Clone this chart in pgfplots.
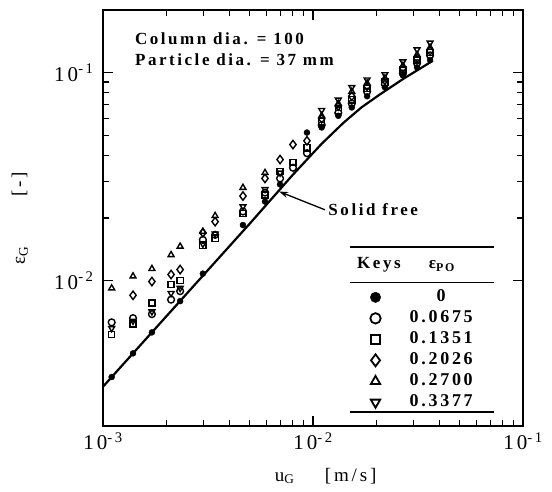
\documentclass[border=0pt]{standalone}
\usepackage{fontspec}
\setmainfont{Liberation Serif}
\newfontfamily\lsfont[LetterSpace=15]{Liberation Serif}
\usepackage{pgfplots}
\pgfplotsset{compat=1.18}
\usetikzlibrary{arrows.meta}

\newcommand\tl[1]{10\textsuperscript{-\,#1}}

\pgfplotsset{
  dat/.style={only marks, black, mark size=3.4pt, forget plot,
    mark options={line width=1.4pt, fill=white, solid}},
  key/.style={only marks, black, mark size=5.2pt,
    mark options={line width=1.8pt, fill=white, solid}},
}

\begin{document}
\begin{tikzpicture}
\begin{axis}[
  xmode=log, ymode=log,
  scale only axis, width=420pt, height=416pt,
  xmin=1e-3, xmax=1e-1, ymin=2e-3, ymax=0.2,
  axis line style={line width=2.4pt},
  every tick/.style={black, line width=1.3pt},
  major tick length=10pt, minor tick length=6pt,
  tick align=inside,
  xtick={1e-3,1e-2,1e-1},
  xticklabels={\tl{3},\tl{2},\tl{1}},
  ytick={1e-2,1e-1},
  yticklabels={\tl{2},\tl{1}},
  ticklabel style={font=\lsfont\fontsize{21}{24}\selectfont},
  xticklabel style={yshift=-3pt},
  yticklabel style={xshift=-6pt},
  xlabel={u\textsubscript{G}\hspace{1.6em}[m/s]},
  ylabel={ε\textsubscript{G}\hspace{2.6em}[-]},
  every axis x label/.style={at={(rel axis cs:0.53,-0.12)}, anchor=center,
    font=\lsfont\fontsize{19}{22}\selectfont},
  every axis y label/.style={at={(rel axis cs:-0.198,0.5)}, anchor=center, rotate=90,
    font=\lsfont\fontsize{19}{22}\selectfont},
  legend style={draw=none, fill=none, inner sep=0pt,
    at={(rel axis cs:0.636,0.335)}, anchor=north west,
    font=\lsfont\bfseries\fontsize{18}{20}\selectfont,
    column sep=27pt, row sep=0pt,
    nodes={text height=13pt, text depth=4pt, inner sep=2pt}},
  legend cell align=center,
]
\coordinate (bl) at (rel axis cs:0,0);

% solid free correlation
\addplot[black, line width=2.2pt, forget plot] coordinates {
  (1.0e-3, 3.09e-3) (5.0e-3, 0.0188) (8.0e-3, 0.0322) (0.0110, 0.0455)
  (0.0140, 0.0575) (0.0170, 0.0680) (0.0210, 0.0790) (0.0270, 0.0935)
  (0.0372, 0.1140)
};

% eps_PO = 0.2700
\addplot[dat, mark=triangle] coordinates {
  (1.10e-3,0.0092) (1.39e-3,0.0105) (1.71e-3,0.0114) (2.11e-3,0.0133)
  (2.33e-3,0.0146) (2.99e-3,0.0172) (3.42e-3,0.0205) (4.64e-3,0.0280)
  (5.91e-3,0.0330) (0.0110,0.0620) (0.0132,0.0710) (0.0153,0.0810)
  (0.0181,0.0890) (0.0220,0.0940) (0.0268,0.1080) (0.0313,0.1220)
  (0.0361,0.1320)
};
% eps_PO = 0.3377
\addplot[dat, mark=triangle, mark options={line width=1.4pt, fill=white, solid, rotate=180}] coordinates {
  (1.10e-3,0.0059) (1.39e-3,0.0064) (1.71e-3,0.0071) (2.11e-3,0.0087)
  (2.33e-3,0.0092) (2.99e-3,0.0150) (3.42e-3,0.0168) (4.64e-3,0.0227)
  (5.91e-3,0.0275) (6.97e-3,0.0330) (0.0110,0.0660) (0.0132,0.0740)
  (0.0153,0.0850) (0.0181,0.0925) (0.0220,0.0980) (0.0268,0.1130)
  (0.0313,0.1290) (0.0361,0.1390)
};
% eps_PO = 0.2026
\addplot[dat, mark=diamond, mark size=4.2pt] coordinates {
  (1.39e-3,0.0085) (1.71e-3,0.0099) (2.11e-3,0.0107) (2.33e-3,0.0113)
  (2.99e-3,0.0170) (3.42e-3,0.0192) (4.64e-3,0.0255) (5.91e-3,0.0310)
  (6.97e-3,0.0382) (8.03e-3,0.0451) (9.36e-3,0.0470) (0.0110,0.0600)
  (0.0132,0.0690) (0.0153,0.0770) (0.0181,0.0860) (0.0220,0.0920)
  (0.0268,0.1050) (0.0313,0.1170) (0.0361,0.1270)
};
% eps_PO = 0.1351
\addplot[dat, mark=square, mark size=3.1pt] coordinates {
  (1.10e-3,0.0055) (1.39e-3,0.0062) (1.71e-3,0.0078) (2.11e-3,0.0096)
  (2.33e-3,0.0100) (2.99e-3,0.0148) (3.42e-3,0.0160) (4.64e-3,0.0210)
  (5.91e-3,0.0258) (6.97e-3,0.0334) (8.03e-3,0.0369) (9.36e-3,0.0435)
  (0.0110,0.0580) (0.0132,0.0660) (0.0153,0.0740) (0.0181,0.0840)
  (0.0220,0.0900) (0.0268,0.1030) (0.0313,0.1150) (0.0361,0.1250)
};
% eps_PO = 0.0675
\addplot[dat, mark=o] coordinates {
  (1.10e-3,0.0063) (1.39e-3,0.0066) (1.71e-3,0.0069) (2.11e-3,0.0081)
  (2.33e-3,0.0089) (2.99e-3,0.0157) (3.42e-3,0.0166) (4.64e-3,0.0215)
  (5.91e-3,0.0265) (6.97e-3,0.0310) (8.03e-3,0.0349) (9.36e-3,0.0410)
  (0.0110,0.0560) (0.0132,0.0640) (0.0153,0.0710) (0.0181,0.0810)
  (0.0220,0.0880) (0.0268,0.0990) (0.0313,0.1110) (0.0361,0.1210)
};
% eps_PO = 0
\addplot[dat, mark=*, mark size=3.0pt, mark options={fill=black}] coordinates {
  (1.10e-3,0.00344) (1.39e-3,0.00447) (1.71e-3,0.00564) (2.33e-3,0.00797)
  (2.99e-3,0.0108) (4.64e-3,0.0185) (5.91e-3,0.0240) (6.97e-3,0.0290)
  (9.36e-3,0.0515) (0.0110,0.0545) (0.0132,0.0620) (0.0153,0.0680)
  (0.0181,0.0770) (0.0220,0.0850) (0.0268,0.0970) (0.0313,0.1060)
  (0.0361,0.1150)
};

\addlegendimage{key, mark=*, mark options={fill=black}}
\addlegendentry{0}
\addlegendimage{key, mark=o}
\addlegendentry{0.0675}
\addlegendimage{key, mark=square, mark size=4.6pt}
\addlegendentry{0.1351}
\addlegendimage{key, mark=diamond, mark size=6pt}
\addlegendentry{0.2026}
\addlegendimage{key, mark=triangle, mark size=5.4pt}
\addlegendentry{0.2700}
\addlegendimage{key, mark=triangle, mark size=5.4pt,
  mark options={line width=1.8pt, fill=white, solid, rotate=180}}
\addlegendentry{0.3377}

% legend frame rules and header
\draw[line width=1.6pt] (rel axis cs:0.588,0.431) -- (rel axis cs:0.931,0.431);
\draw[line width=1.1pt] (rel axis cs:0.588,0.345) -- (rel axis cs:0.931,0.345);
\draw[line width=1.6pt] (rel axis cs:0.588,0.034) -- (rel axis cs:0.931,0.034);
\node[font=\lsfont\bfseries\fontsize{17}{20}\selectfont] at (rel axis cs:0.657,0.387) {Keys};
\node[font=\lsfont\bfseries\fontsize{17}{20}\selectfont] at (rel axis cs:0.807,0.385)
  {ε\textsubscript{PO}};

% annotations
\node[anchor=north west, align=left, font=\lsfont\bfseries\fontsize{17}{21}\selectfont]
  at (rel axis cs:0.068,0.955) {Column dia. = 100\\Particle dia. = 37 mm};
\draw[-{Stealth[length=9pt,width=6pt]}, line width=1.3pt]
  (axis cs:0.0114,0.0219) -- (axis cs:6.9e-3,0.0268);
\node[anchor=west, font=\lsfont\bfseries\fontsize{17}{20}\selectfont]
  at (axis cs:0.0114,0.0219) {Solid free};
\end{axis}
\pgfresetboundingbox
\path[use as bounding box] (bl) ++(-103pt,-65pt) rectangle ++(552pt,491pt);
\end{tikzpicture}
\end{document}
